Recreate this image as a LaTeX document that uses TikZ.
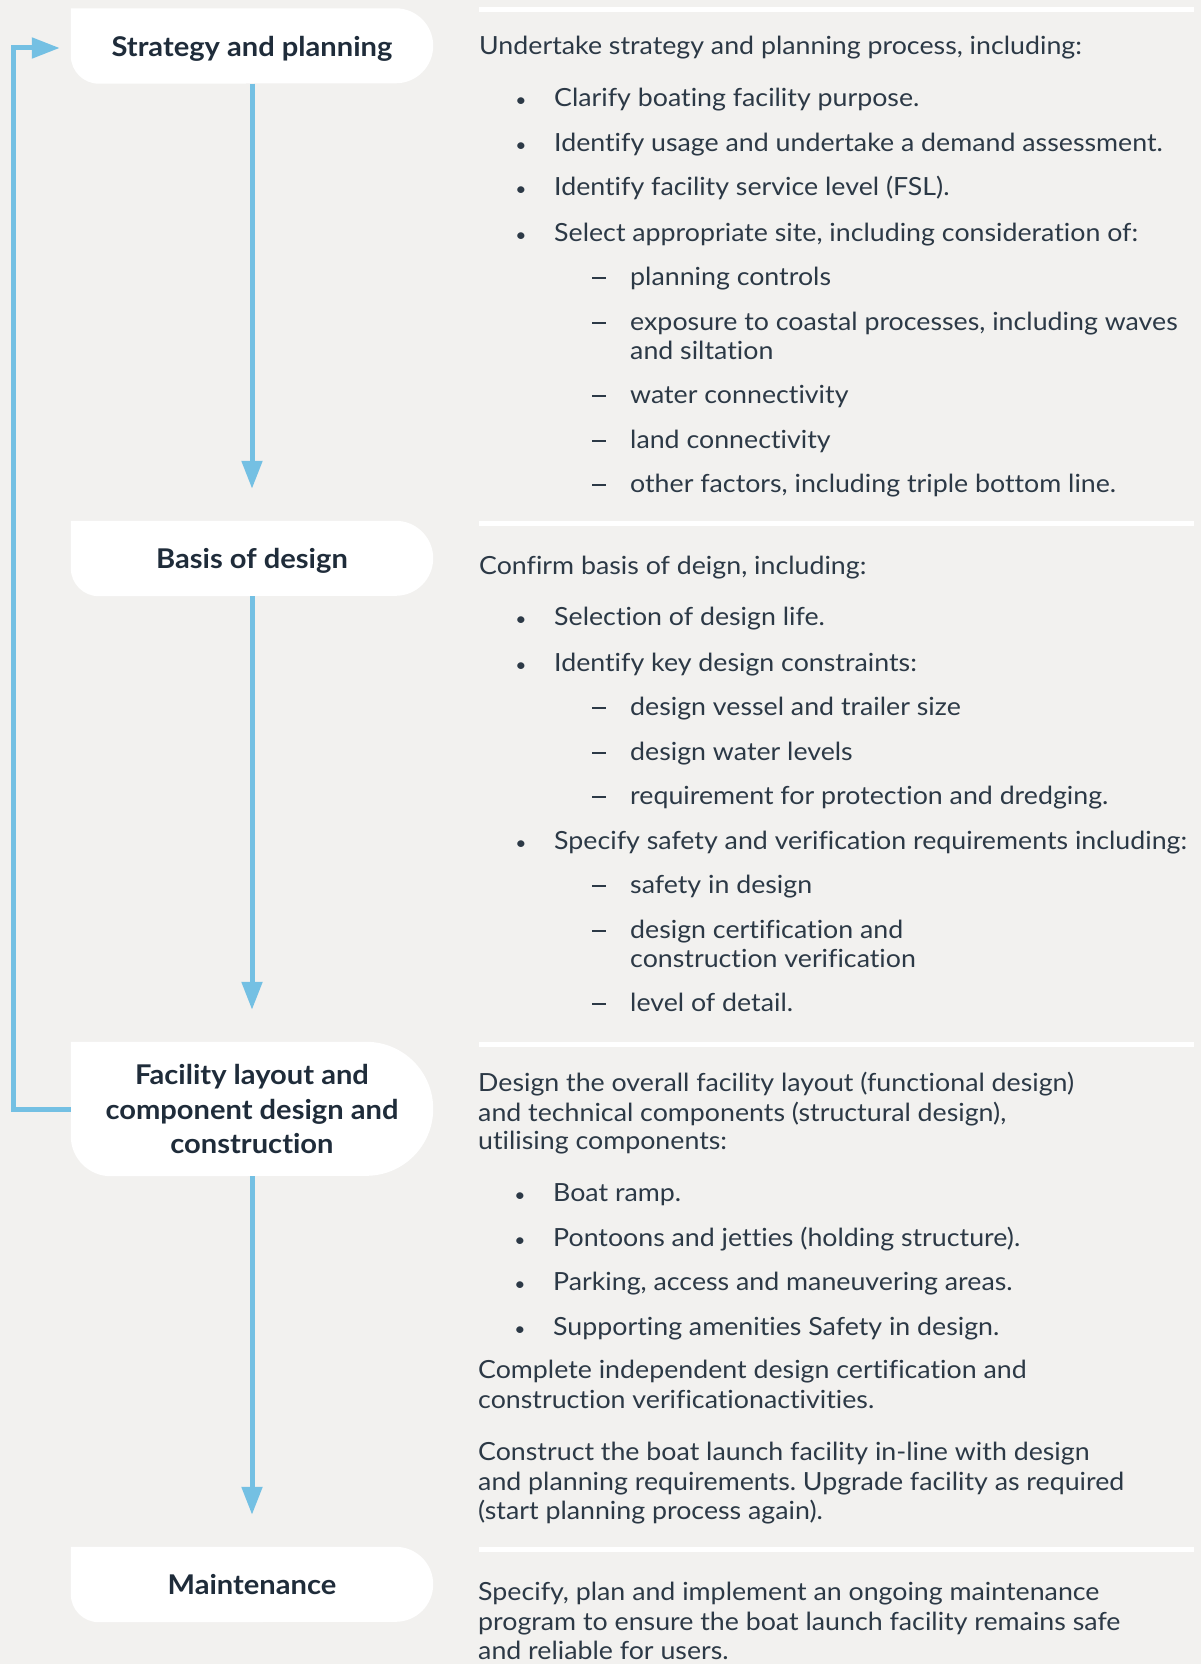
\documentclass[tikz,border=0pt]{standalone}
\usepackage{fontspec}
\setmainfont{Lato}[FakeStretch=1.07, Ligatures=NoCommon]
\usetikzlibrary{arrows.meta,positioning,backgrounds}
\definecolor{bNavy}{HTML}{1F2C3A}
\definecolor{bInk}{HTML}{2C3946}
\definecolor{bSky}{HTML}{74C0E3}
\definecolor{bPaper}{HTML}{F2F1EF}
\frenchspacing

\begin{document}
\begin{tikzpicture}[x=1pt, y=-1pt,
  stepbox/.style={minimum width=362pt, minimum height=75pt, align=center, inner sep=0pt,
    font=\bfseries\fontsize{27.2}{34.5}\selectfont, text=bNavy},
  body/.style={anchor=base west, inner sep=0pt, font=\fontsize{25}{29}\selectfont, text=bInk},
  flow/.style={bSky, line width=5pt, -{Triangle[length=28pt,width=20pt]}}]

  \useasboundingbox (0,0) rectangle (1201,1664);

  % steps
  \node[stepbox, text depth=0pt] (sp) at (252,46) {Strategy and planning};
  \node[stepbox, text depth=0pt] (bod) at (252,558.5) {Basis of design};
  \node[stepbox, minimum height=134pt] (fl) at (252,1109) {Facility layout and\\component design and\\construction};
  \node[stepbox] (mt) at (252,1584.5) {Maintenance};

  \begin{scope}[on background layer]
    \fill[bPaper] (0,0) rectangle (1201,1664);
    \foreach \nd/\rad/\bl in {sp/37.5pt/28pt, bod/37.5pt/28pt, fl/67pt/40pt, mt/37.5pt/28pt}{
      \fill[white] (\nd.north west) -- ([xshift=-\rad]\nd.north east)
        arc[start angle=90, end angle=-90, radius=\rad]
        -- ([xshift=\bl]\nd.south west) arc[start angle=270, end angle=180, radius=\bl] -- cycle;
    }
  \end{scope}

  % arrows
  \draw[flow, shorten >=32pt] (sp) -- (bod);
  \draw[flow, shorten >=32pt] (bod) -- (fl);
  \draw[flow, shorten >=32pt] (fl) -- (mt);
  \draw[flow] (fl.west) -- ++(-57,0) |- ([xshift=-11pt,yshift=-2pt]sp.west);

  % separators
  \foreach \y in {7,521,1042,1547}
    \fill[white] (479,\y) rectangle (1194,\y+5);

  % plain lines
  \foreach \x/\y/\txt [count=\i] in {
     479/55/{Undertake strategy and planning process, including:},
     630/359/{and siltation},
     479/574/{Confirm basis of deign, including:},
     630/967/{construction verification},
     478/1091/{Design the overall facility layout (functional design)},
     478/1121/{and technical components (structural design),},
     478/1149/{utilising components:},
     478/1378/{Complete independent design certification and},
     478/1408/{construction verificationactivities.},
     478/1460/{Construct the boat launch facility in-line with design},
     478/1490/{and planning requirements. Upgrade facility as required},
     478/1519/{(start planning process again).},
     478/1600/{Specify, plan and implement an ongoing maintenance},
     478/1630/{program to ensure the boat launch facility remains safe},
     478/1659.5/{and reliable for users.}}
    \node[body] (pl\i) at (\x,\y) {\txt};

  % bullet items
  \foreach \x/\y/\txt [count=\i] in {
     521/107/{Clarify boating facility purpose.},
     521/152/{Identify usage and undertake a demand assessment.},
     521/196/{Identify facility service level (FSL).},
     521/241/{Select appropriate site, including consideration of:},
     521/625/{Selection of design life.},
     521/671/{Identify key design constraints:},
     521/849/{Specify safety and verification requirements including:},
     520/1201/{Boat ramp.},
     520/1246/{Pontoons and jetties (holding structure).},
     520/1290/{Parking, access and maneuvering areas.},
     520/1335/{Supporting amenities Safety in design.}}{
    \node[body, anchor=base, font=\fontsize{18}{20}\selectfont] (bu\i) at (\x,\y) {\textbullet};
    \node[body] (bt\i) at (\x+33,\y) {\txt};
  }

  % dash items
  \foreach \y/\txt [count=\i] in {
     285/{planning controls},
     330/{exposure to coastal processes, including waves},
     403/{water connectivity},
     448/{land connectivity},
     492/{other factors, including triple bottom line.},
     715/{design vessel and trailer size},
     760/{design water levels},
     804/{requirement for protection and dredging.},
     893/{safety in design},
     938/{design certification and},
     1011/{level of detail.}}{
    \node[body, anchor=base] (da\i) at (599,\y) {\rule[6pt]{14pt}{1.8pt}};
    \node[body] (dt\i) at (630,\y) {\txt};
  }
\end{tikzpicture}
\end{document}
